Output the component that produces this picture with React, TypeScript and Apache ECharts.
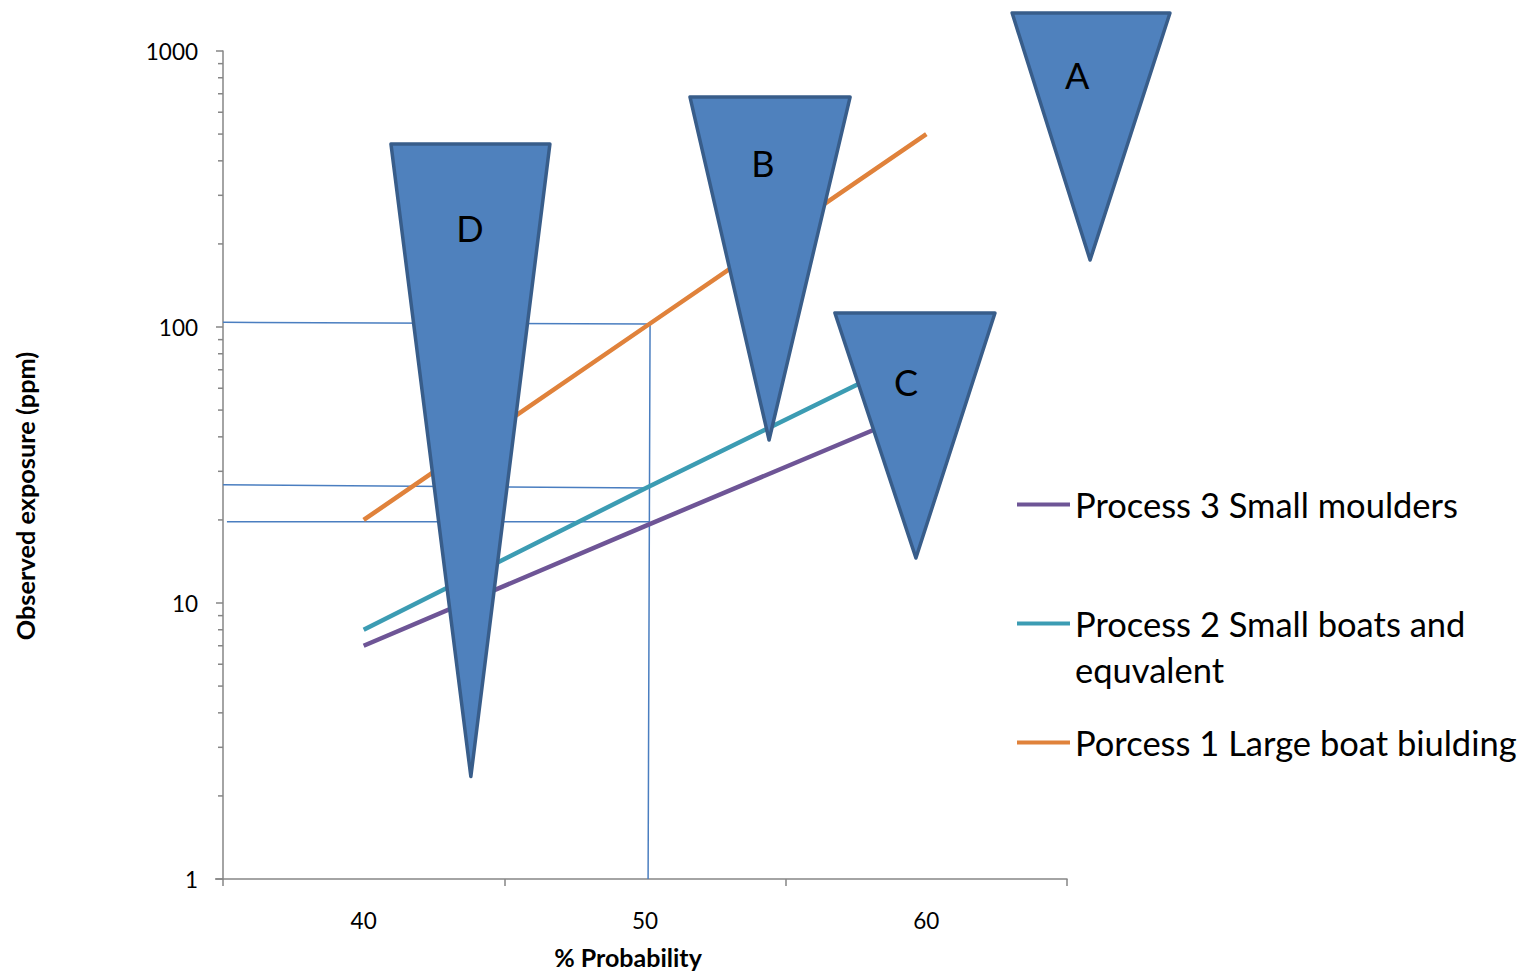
import React, { useEffect, useRef } from "react";
import * as echarts from "echarts";

// ---- data ----
const categories = ["40", "50", "60"];
const xValues = [40, 50, 60];
const process1 = [20, 100, 500]; // Porcess 1 Large boat biulding
const process2 = [8, 26, 82]; // Process 2 Small boats and equvalent
const process3 = [7, 19, 51]; // Process 3 Small moulders
const seriesNames = [
  "Porcess 1 Large boat biulding",
  "Process 2 Small boats and equvalent",
  "Process 3 Small moulders",
];
const minorTickValues = [
  2, 3, 4, 5, 6, 7, 8, 9, 20, 30, 40, 50, 60, 70, 80, 90, 200, 300, 400, 500,
  600, 700, 800, 900,
];
// reference lines (x in % probability, y in ppm)
const refLineA = [
  [35, 104],
  [50.18, 102.5],
  [50.11, 1],
];
const refLineB = [
  [35, 26.8],
  [50.18, 26.1],
];
const refLineC = [
  [35.14, 19.7],
  [50.18, 19.7],
];
// triangles (data coordinates)
const triangleLabels = ["D", "B", "C", "A"];
const triangleLeftX = [40.97, 51.6, 56.75, 63.05];
const triangleRightX = [46.62, 57.29, 62.44, 68.66];
const triangleApexX = [43.81, 54.41, 59.63, 65.82];
const triangleTopY = [460, 681, 112.4, 1373];
const triangleApexY = [2.35, 38.96, 14.56, 174.9];
const triangleLabelX = [43.78, 54.19, 59.28, 65.36];
const triangleLabelY = [228.4, 392.9, 63.2, 818];

const FONT = "Lato, 'Open Sans', sans-serif";
const colors = ["#E0823B", "#3C9CB3", "#6E5596"];
const refColor = "#4A7EC0";
const axisColor = "#868686";

export default function App() {
  const ref = useRef<HTMLDivElement>(null);
  useEffect(() => {
    if (!ref.current) return;
    const chart = echarts.init(ref.current, undefined, { renderer: "svg" });
    const lineData = [process1, process2, process3].map((vals) =>
      vals.map((v, i) => [xValues[i], v])
    );
    const triData = triangleLabels.map((_, i) => [
      triangleLeftX[i],
      triangleRightX[i],
      triangleApexX[i],
      triangleTopY[i],
      triangleApexY[i],
      triangleLabelX[i],
      triangleLabelY[i],
    ]);
    const refSeries = [refLineA, refLineB, refLineC].map((d) => ({
      type: "line",
      xAxisIndex: 1,
      data: d,
      symbol: "none",
      silent: true,
      z: 1,
      lineStyle: { color: refColor, width: 1.5 },
    }));
    const legendBase = {
      orient: "vertical",
      left: 1017,
      padding: 0,
      itemWidth: 53,
      itemHeight: 4,
      icon: "rect",
      selectedMode: false,
      textStyle: { fontSize: 34.5, fontFamily: FONT, color: "#000" },
    };
    const option: any = {
      animation: false,
      backgroundColor: "#fff",
      grid: { left: 223, right: 452, top: 51, bottom: 92 },
      xAxis: [
        {
          type: "category",
          data: categories,
          boundaryGap: true,
          axisLine: { show: true, lineStyle: { color: axisColor, width: 1.5 } },
          axisTick: {
            show: true,
            alignWithLabel: false,
            inside: false,
            length: 7,
            lineStyle: { color: axisColor, width: 1.5 },
          },
          axisLabel: { fontSize: 22.5, fontFamily: FONT, color: "#000", margin: 30 },
          splitLine: { show: false },
        },
        { type: "value", min: 35, max: 65, show: false },
      ],
      yAxis: {
        type: "log",
        logBase: 10,
        min: 1,
        max: 1000,
        axisLine: { show: true, lineStyle: { color: axisColor, width: 1.5 } },
        axisTick: {
          show: true,
          inside: false,
          length: 7,
          lineStyle: { color: axisColor, width: 1.5 },
        },
        axisLabel: {
          fontSize: 22.5,
          fontFamily: FONT,
          color: "#000",
          margin: 25,
          formatter: (v: number) => String(Math.round(v)),
        },
        splitLine: { show: false },
      },
      legend: [
        { ...legendBase, top: 487, data: [seriesNames[2]] },
        {
          ...legendBase,
          top: 606,
          data: [seriesNames[1]],
          formatter: () => "Process 2 Small boats and",
        },
        { ...legendBase, top: 725, data: [seriesNames[0]] },
      ],
      graphic: [
        {
          type: "text",
          x: 25,
          y: 496,
          rotation: Math.PI / 2,
          style: {
            text: "Observed exposure (ppm)",
            fontSize: 25.3,
            fontWeight: "bold",
            fontFamily: FONT,
            fill: "#000",
            align: "center",
            verticalAlign: "middle",
          },
        },
        {
          type: "text",
          x: 628,
          y: 957,
          style: {
            text: "% Probability",
            fontSize: 25,
            fontWeight: "bold",
            fontFamily: FONT,
            fill: "#000",
            align: "center",
            verticalAlign: "middle",
          },
        },
        {
          type: "text",
          x: 1075,
          y: 669,
          style: {
            text: "equvalent",
            fontSize: 34.5,
            fontFamily: FONT,
            fill: "#000",
            align: "left",
            verticalAlign: "middle",
          },
        },
        {
          type: "line",
          shape: { x1: 215, y1: 879, x2: 223, y2: 879 },
          style: { stroke: axisColor, lineWidth: 1.5 },
        },
      ],
      series: [
        ...refSeries,
        ...lineData.map((d, i) => ({
          name: seriesNames[i],
          type: "line",
          xAxisIndex: 1,
          data: d,
          symbol: "none",
          z: 2,
          color: colors[i],
          lineStyle: { color: colors[i], width: 4.5 },
          itemStyle: { color: colors[i] },
        })),
        {
          type: "custom",
          xAxisIndex: 1,
          silent: true,
          z: 1,
          clip: false,
          data: minorTickValues.map((v) => [35, v]),
          renderItem: (params: any, api: any) => {
            const p = api.coord([api.value(0), api.value(1)]);
            return {
              type: "line",
              shape: { x1: p[0] - 5, y1: p[1], x2: p[0], y2: p[1] },
              style: { stroke: axisColor, lineWidth: 1.5 },
            };
          },
        },
        {
          type: "custom",
          xAxisIndex: 1,
          silent: true,
          z: 5,
          clip: false,
          data: triData,
          renderItem: (params: any, api: any) => {
            const l = api.coord([api.value(0), api.value(3)]);
            const r = api.coord([api.value(1), api.value(3)]);
            const a = api.coord([api.value(2), api.value(4)]);
            const t = api.coord([api.value(5), api.value(6)]);
            return {
              type: "group",
              children: [
                {
                  type: "polygon",
                  shape: { points: [l, r, a] },
                  style: {
                    fill: "#4F81BD",
                    stroke: "#385D8A",
                    lineWidth: 3.5,
                    lineJoin: "round",
                  },
                },
                {
                  type: "text",
                  x: t[0],
                  y: t[1],
                  style: {
                    text: triangleLabels[params.dataIndex],
                    fontSize: 36,
                    fontFamily: FONT,
                    fill: "#000",
                    align: "center",
                    verticalAlign: "middle",
                  },
                },
              ],
            };
          },
        },
      ],
    };
    chart.setOption(option);
    return () => chart.dispose();
  }, []);
  return (
    <div
      ref={ref}
      style={{ position: "fixed", left: 0, top: 0, width: 1519, height: 971, background: "#fff" }}
    />
  );
}
